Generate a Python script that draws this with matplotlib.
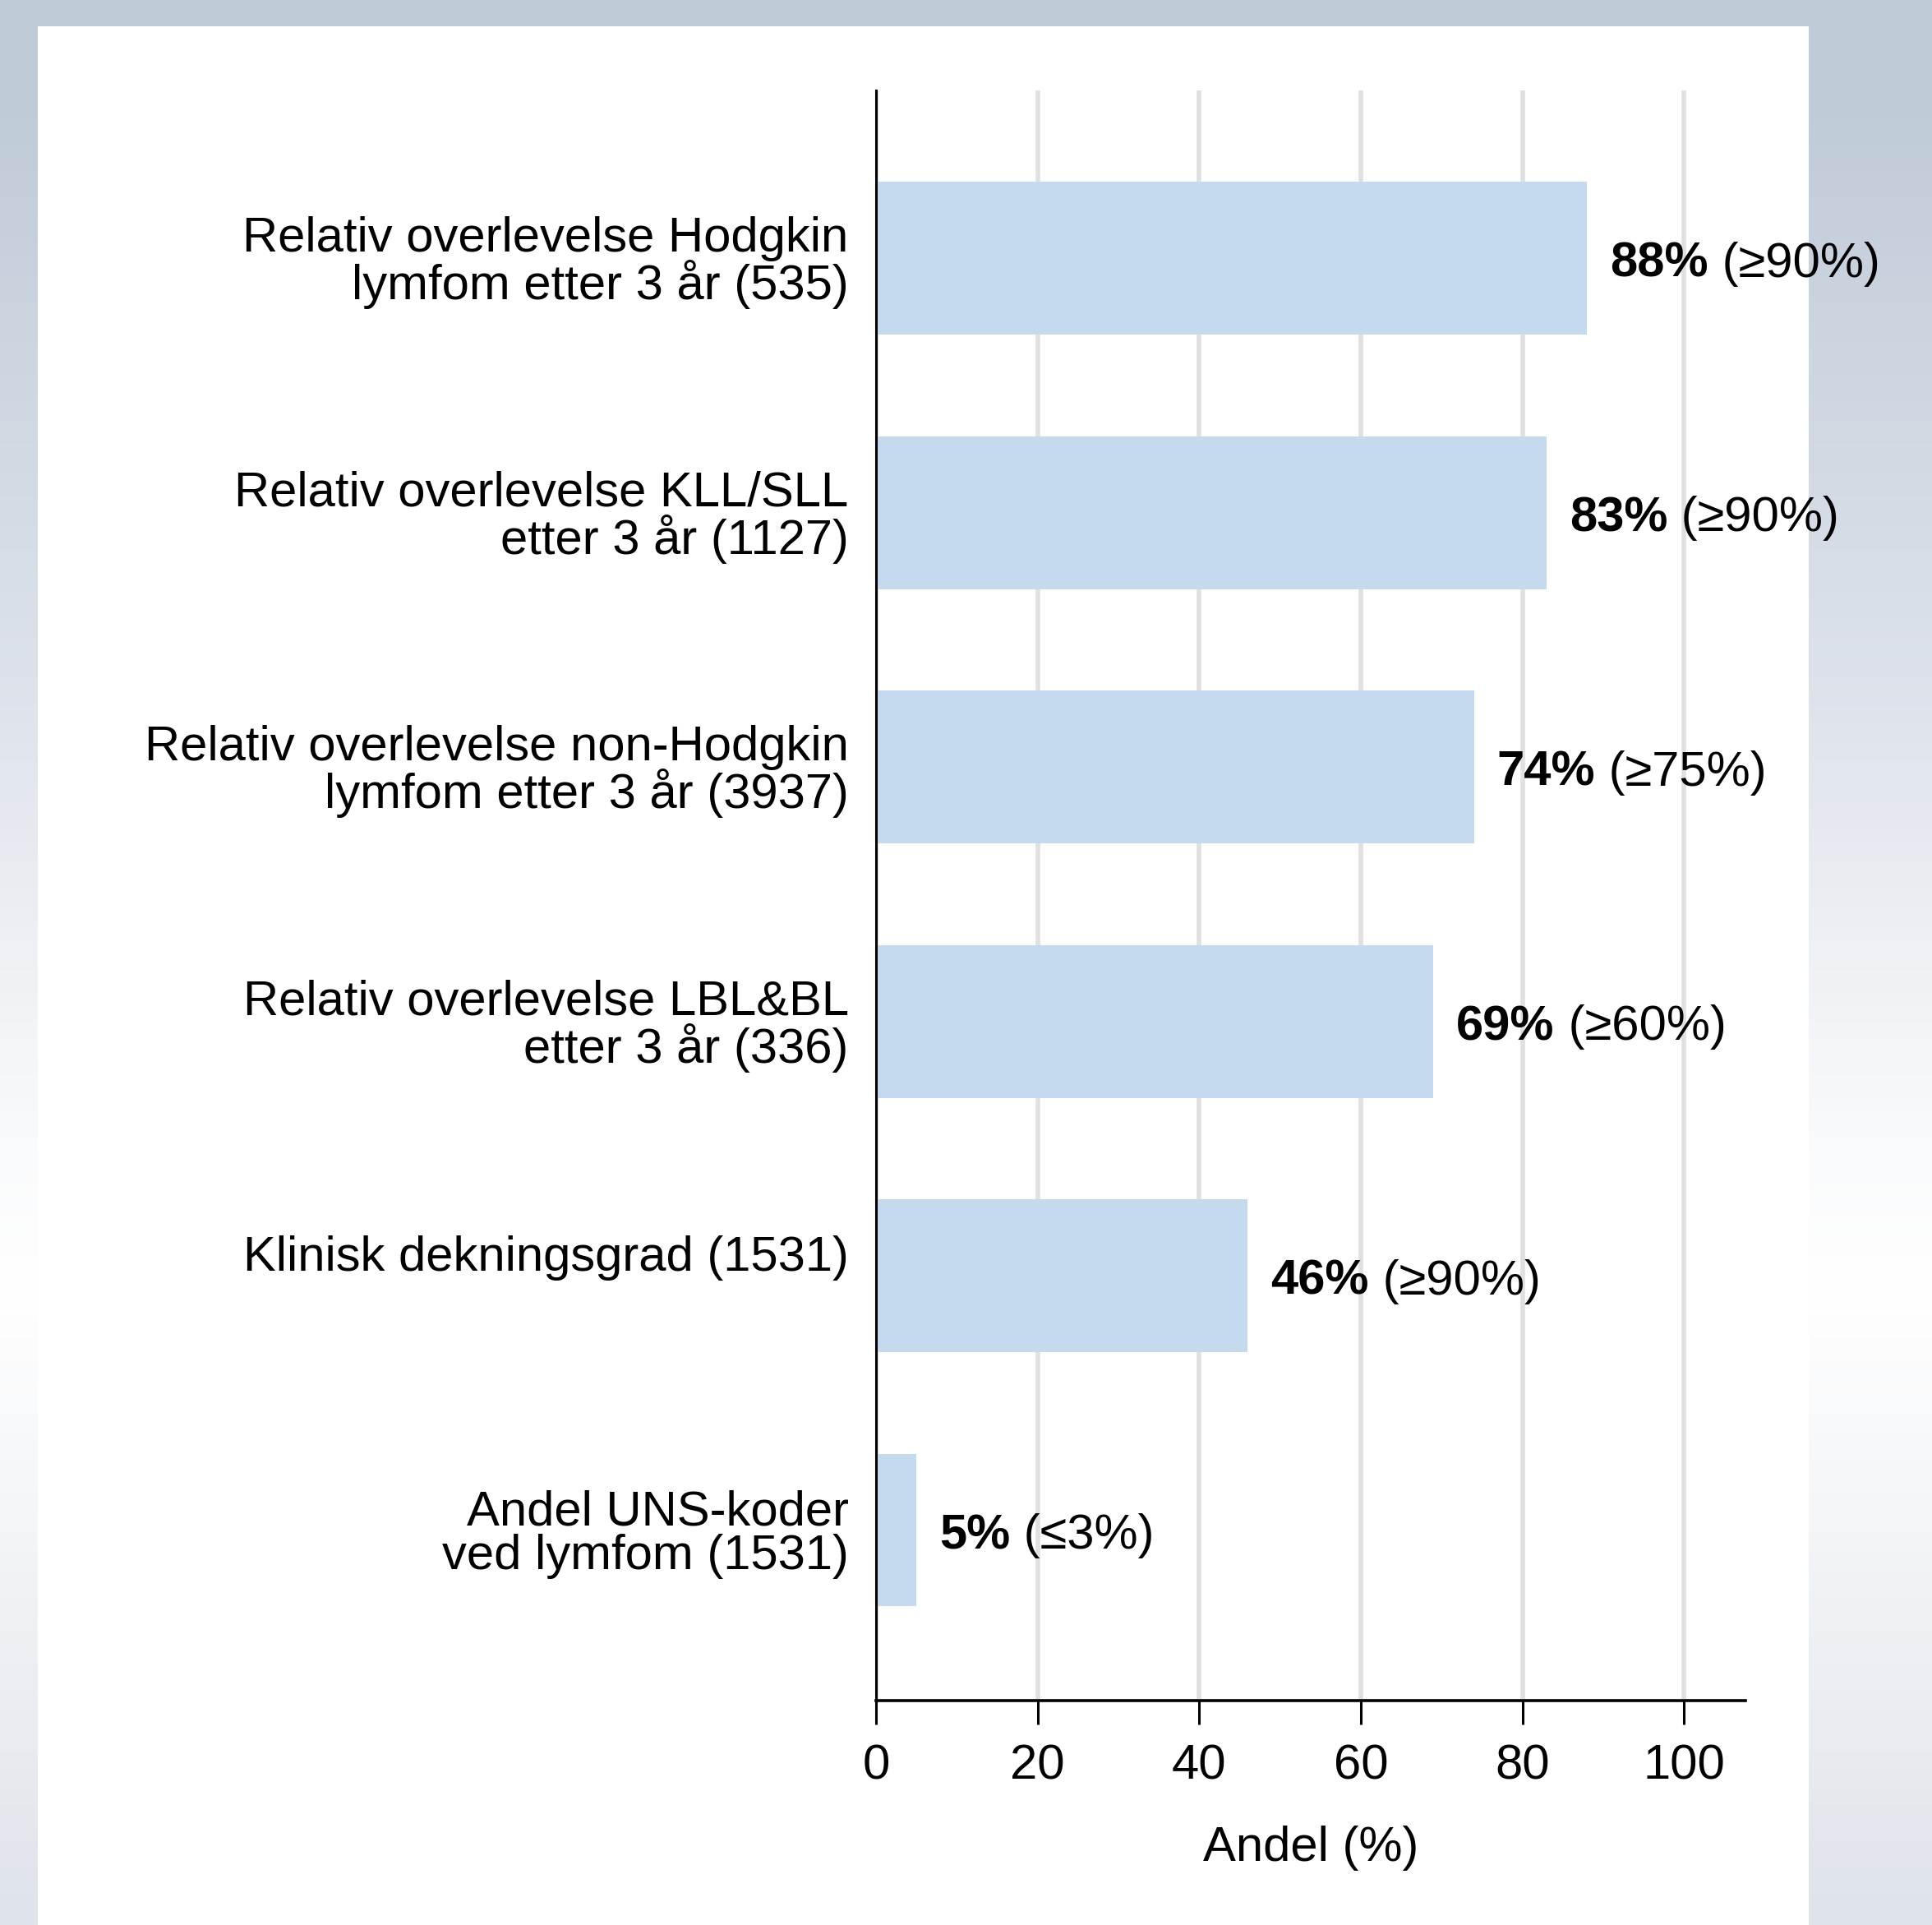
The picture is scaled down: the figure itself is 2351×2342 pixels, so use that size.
import numpy as np
import matplotlib
matplotlib.use("Agg")
import matplotlib.pyplot as plt
from matplotlib.patches import Rectangle
from matplotlib.colors import LinearSegmentedColormap

plt.rcParams['font.family'] = ['Liberation Sans', 'DejaVu Sans']

categories = [
    "Relativ overlevelse Hodgkin\nlymfom etter 3 år (535)",
    "Relativ overlevelse KLL/SLL\netter 3 år (1127)",
    "Relativ overlevelse non-Hodgkin\nlymfom etter 3 år (3937)",
    "Relativ overlevelse LBL&BL\netter 3 år (336)",
    "Klinisk dekningsgrad (1531)\n ",
    "Andel UNS-koder\nved lymfom (1531)",
]
values = [88, 83, 74, 69, 46, 5]
value_labels = ["88%", "83%", "74%", "69%", "46%", "5%"]
target_labels = ["(≥90%)", "(≥90%)", "(≥75%)", "(≥60%)", "(≥90%)", "(≤3%)"]
xticks = [0, 20, 40, 60, 80, 100]
xlabel = "Andel (%)"

W, H = 2351, 2342
FS = 43
fig = plt.figure(figsize=(W / 100, H / 100), dpi=100)

# background gradient
bg = fig.add_axes([0, 0, 1, 1], zorder=-10)
bg.set_axis_off()
stops = [(0.0, "#c0cbd8"), (0.06, "#c1ccd9"), (0.35, "#dde2ea"),
         (0.60, "#fafbfc"), (0.67, "#ffffff"), (0.85, "#eef1f4"), (1.0, "#dfe3ea")]
cmap = LinearSegmentedColormap.from_list("bg", stops)
grad = np.linspace(0, 1, 512).reshape(-1, 1)
bg.imshow(grad, cmap=cmap, aspect="auto", extent=[0, 1, 0, 1], origin="upper")
bg.set_xlim(0, 1)
bg.set_ylim(0, 1)
bg.add_patch(Rectangle((46 / W, 0), (2201 - 46) / W, 1 - 32 / H,
                       facecolor="white", edgecolor="none", zorder=2))

ax_left = 1066 / W
ax_right = 2124 / W
ax_top = 1 - 110 / H
ax_bottom = 1 - 2069 / H
ax = fig.add_axes([ax_left, ax_bottom, ax_right - ax_left, ax_top - ax_bottom])
ax.set_facecolor("white")

y = np.arange(len(categories))
ax.barh(y, values, height=0.6, color="#c6daef", edgecolor="none", zorder=2)
ax.set_xlim(0, 107.6)
ax.set_ylim(5.67, -0.66)

ax.set_yticks(y)
ax.set_yticklabels(categories, fontsize=FS, linespacing=0.97)
ax.tick_params(axis="y", length=0, pad=24)
ax.set_xticks(xticks)
ax.set_xticklabels([str(t) for t in xticks], fontsize=FS)
ax.tick_params(axis="x", length=21, width=2.2, pad=17, direction="out")
ax.set_xlabel(xlabel, fontsize=FS, labelpad=32)

ax.grid(axis="x", color="#e0e0e0", linewidth=4, zorder=0)
ax.set_axisbelow(True)
for s in ["top", "right"]:
    ax.spines[s].set_visible(False)
ax.spines["left"].set_linewidth(2.2)
ax.spines["bottom"].set_linewidth(2.6)
ax.spines["left"].set_zorder(3)

for yi, v, vl, tl in zip(y, values, value_labels, target_labels):
    t1 = ax.annotate(vl, xy=(v, yi), xytext=(20, -5), textcoords="offset points",
                     ha="left", va="center", fontsize=FS, fontweight="bold",
                     annotation_clip=False, zorder=5)
    ax.annotate(" " + tl, xy=(1, 0), xycoords=t1, xytext=(0, 0),
                textcoords="offset points", ha="left", va="bottom",
                fontsize=FS, annotation_clip=False, zorder=5)

fig.savefig("out.png", dpi=100)
